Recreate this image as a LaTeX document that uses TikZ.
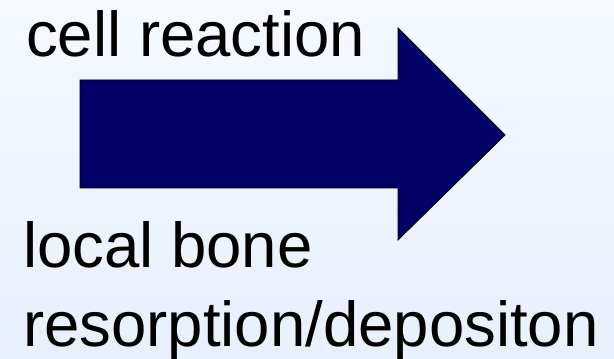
\documentclass[tikz,border=0pt]{standalone}
\usepackage{fontspec}
\setmainfont{Liberation Sans}
\usepackage{tikz}
\usetikzlibrary{positioning,calc}
\usepackage{xcolor}
\definecolor{bgtop}{RGB}{245,249,255}
\definecolor{bgbottom}{RGB}{232,240,252}
\definecolor{arrownavy}{RGB}{0,0,102}

\begin{document}
\begin{tikzpicture}[x=1pt, y=1pt,
    label text/.style={anchor=base west, inner sep=0pt, font=\fontsize{63.5}{76}\selectfont}]
    % Background with soft vertical gradient
    \shade[top color=bgtop, bottom color=bgbottom] (0, 0) rectangle (614, 359);
    \useasboundingbox (0, 0) rectangle (614, 359);

    % Outline points of the block arrow
    \coordinate (tailTop) at (80, 279);
    \coordinate (neckTop) at (398, 279);
    \coordinate (headTop) at (398, 331);
    \coordinate (tip) at (505, 224);
    \coordinate (headBottom) at (398, 119);
    \coordinate (neckBottom) at (398, 171);
    \coordinate (tailBottom) at (80, 171);

    % Drop shadow, then the arrow itself
    \fill[gray!70, shift={(2, -2)}] (tailTop) -- (neckTop) -- (headTop) -- (tip) -- (headBottom) -- (neckBottom) -- (tailBottom) -- cycle;
    \filldraw[fill=arrownavy, draw=black, line width=0.8pt] (tailTop) -- (neckTop) -- (headTop) -- (tip) -- (headBottom) -- (neckBottom) -- (tailBottom) -- cycle;

    % Labels
    \node[label text] (cell) at (26, 302) {cell reaction};
    \node[label text] (local) at (23, 91) {local bone};
    \node[label text] (resorp) at (23, 12) {resorption/depositon};
\end{tikzpicture}
\end{document}
